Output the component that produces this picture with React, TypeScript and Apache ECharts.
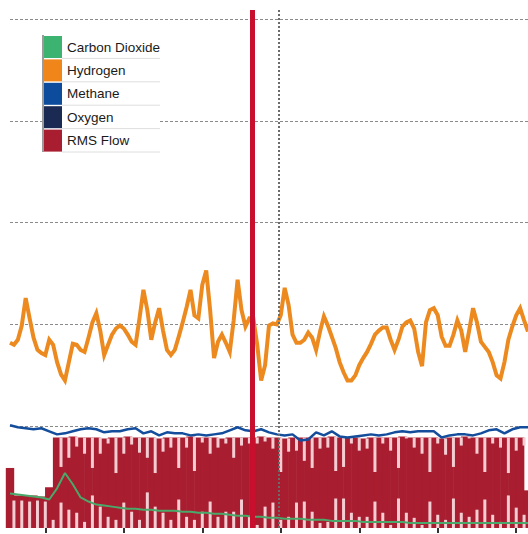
import React, { useEffect, useRef } from "react";
import * as echarts from "echarts";

// Sample index axis (one sample per unit)
const xTicks = [9, 29, 49, 69, 89, 109, 129];
const legendNames = ["Carbon Dioxide", "Hydrogen", "Methane", "Oxygen", "RMS Flow"];

// Hydrogen: one value per sample (0..132)
const hydrogen = [
  1.82, 1.80, 1.85, 1.99, 2.26, 2.06, 1.87, 1.75, 1.72, 1.70,
  1.85, 1.80, 1.63, 1.51, 1.45, 1.63, 1.81, 1.80, 1.75, 1.73,
  1.87, 2.02, 2.11, 1.94, 1.70, 1.80, 1.90, 1.96, 1.99, 1.96,
  1.90, 1.83, 1.80, 2.06, 2.34, 2.14, 1.85, 2.02, 2.16, 1.94,
  1.75, 1.70, 1.75, 1.88, 2.02, 2.17, 2.34, 2.09, 2.06, 2.39,
  2.53, 2.14, 1.67, 1.83, 1.90, 1.82, 1.73, 2.04, 2.44, 2.14,
  1.98, 2.06, 2.06, 1.80, 1.45, 1.60, 1.99, 2.01, 2.00, 2.09,
  2.36, 2.19, 1.90, 1.82, 1.82, 1.85, 1.92, 1.87, 1.75, 1.93,
  2.08, 1.99, 1.88, 1.77, 1.63, 1.53, 1.45, 1.45, 1.50, 1.60,
  1.67, 1.73, 1.81, 1.90, 1.94, 1.97, 1.97, 1.85, 1.75, 1.85,
  1.98, 2.02, 2.04, 1.96, 1.73, 1.59, 2.02, 2.14, 2.16, 2.09,
  1.88, 1.79, 1.79, 1.90, 2.04, 1.94, 1.73, 1.94, 2.16, 2.02,
  1.83, 1.78, 1.73, 1.63, 1.50, 1.47, 1.63, 1.85, 1.98, 2.09,
  2.16, 2.04, 1.93,
];

// Methane: every 2nd sample (0,2,...,132)
const methane = [
  1.01, 0.99, 0.98, 0.97, 0.98, 0.95, 0.92, 0.93, 0.95, 0.97,
  0.98, 0.97, 0.94, 0.95, 0.95, 0.97, 0.98, 0.93, 0.95, 0.91,
  0.94, 0.93, 0.93, 0.91, 0.92, 0.91, 0.92, 0.93, 0.96, 0.99,
  0.96, 0.95, 0.97, 0.94, 0.92, 0.91, 0.92, 0.86, 0.87, 0.94,
  0.91, 0.95, 0.90, 0.89, 0.90, 0.91, 0.92, 0.91, 0.92, 0.94,
  0.95, 0.94, 0.95, 0.95, 0.95, 0.89, 0.91, 0.92, 0.92, 0.91,
  0.93, 0.96, 0.97, 0.93, 0.97, 0.99, 0.99,
];

// Carbon dioxide: every 2nd sample
const carbonDioxide = [
  0.34, 0.33, 0.32, 0.31, 0.30, 0.28, 0.39, 0.54, 0.43, 0.30,
  0.26, 0.23, 0.22, 0.21, 0.20, 0.19, 0.19, 0.18, 0.18, 0.17,
  0.17, 0.17, 0.16, 0.16, 0.15, 0.15, 0.14, 0.14, 0.13, 0.12,
  0.12, 0.11, 0.11, 0.10, 0.10, 0.09, 0.09, 0.09, 0.08, 0.08,
  0.08, 0.07, 0.07, 0.07, 0.07, 0.06, 0.06, 0.06, 0.06, 0.06,
  0.06, 0.05, 0.05, 0.05, 0.05, 0.05, 0.05, 0.05, 0.05, 0.05,
  0.05, 0.05, 0.05, 0.05, 0.05, 0.05, 0.05,
];

const oxygen: number[] = [];

// RMS Flow: every 2nd sample (even samples)
const rmsFlow = [
  0.59, 0.32, 0.32, 0.32, 0.31, 0.40, 0.89, 0.89, 0.90, 0.89,
  0.89, 0.89, 0.88, 0.89, 0.89, 0.90, 0.89, 0.89, 0.89, 0.88,
  0.89, 0.89, 0.89, 0.90, 0.89, 0.89, 0.89, 0.88, 0.89, 0.89,
  0.89, 0.89, 0.90, 0.89, 0.89, 0.88, 0.89, 0.89, 0.89, 0.89,
  0.89, 0.90, 0.89, 0.89, 0.89, 0.88, 0.89, 0.89, 0.89, 0.89,
  0.90, 0.89, 0.89, 0.89, 0.89, 0.88, 0.89, 0.89, 0.90, 0.89,
  0.89, 0.89, 0.89, 0.89, 0.89, 0.89, 0.37,
];

// Light gaps inside the flow bars (odd samples 1..131): depth from the top, height from the bottom
const gapTop = [
  0, 0, 0, 0, 0,
  0, 0.29, 0.20, 0.10, 0.16,
  0.30, 0.16, 0.05, 0.35, 0.16,
  0.08, 0.15, 0.20, 0.35, 0.13,
  0.10, 0.30, 0.10, 0.34, 0.05,
  0.16, 0.10, 0.05, 0.20, 0.08,
  0.06, 0.06, 0.05, 0.11, 0.34,
  0.13, 0.13, 0.23, 0.30, 0.11,
  0.10, 0.34, 0.29, 0.06, 0.13,
  0.10, 0.34, 0.06, 0.13, 0.30,
  0.02, 0.10, 0.16, 0.34, 0.06,
  0.16, 0.29, 0.08, 0.02, 0.16,
  0.34, 0.06, 0.10, 0.35, 0.13,
  0.08,
];
const gapBottom = [
  0.27, 0.27, 0.26, 0.27, 0.26,
  0.08, 0.25, 0.18, 0.15, 0.06,
  0.32, 0.21, 0.11, 0.08, 0.25,
  0.16, 0.08, 0.35, 0.21, 0.15,
  0.08, 0.28, 0.11, 0.08, 0.16,
  0.26, 0.11, 0.16, 0.16, 0.28,
  0.11, 0.03, 0.21, 0.25, 0.08,
  0.11, 0.25, 0.26, 0.16, 0.05,
  0.06, 0.29, 0.29, 0.15, 0.11,
  0.11, 0.26, 0.15, 0.03, 0.29,
  0.15, 0.10, 0.03, 0.26, 0.13,
  0.08, 0.29, 0.15, 0.11, 0.18,
  0.28, 0.13, 0.06, 0.32, 0.20,
  0.13,
];

const cursorAt = 61.7;
const referenceAt = 68.5;

const CRIMSON = "#a81d2f";
const PINK = "#f3cdd2";

export default function App() {
  const ref = useRef<HTMLDivElement>(null);

  useEffect(() => {
    if (!ref.current) return;
    const chart = echarts.init(ref.current, null, { renderer: "svg" });

    const hData = hydrogen.map((v, i) => [i, v]);
    const mData = methane.map((v, i) => [i * 2, v]);
    const cData = carbonDioxide.map((v, i) => [i * 2, v]);
    const rData = rmsFlow.map((v, i) => [i * 2, v]);
    const gapSlots = gapTop.map((_, i) => String(i * 2 + 1));
    const gBottom = gapBottom.slice();
    const gSpacer = gapTop.map((d, i) => Math.max(0, rmsFlow[i] - d - gapBottom[i]));
    const gTop = gapTop.slice();

    const rowH = 23.4;
    const legTop = 35;
    const sepLines = [1, 2, 3, 4, 5].map((k) => ({
      type: "line",
      z: 4,
      shape: { x1: 62, y1: legTop + rowH * k, x2: 160, y2: legTop + rowH * k },
      style: { stroke: "#dedede", lineWidth: 1 },
    }));

    const gapBar = (name: string, data: number[], color: string) => ({
      name,
      type: "bar",
      xAxisIndex: 1,
      stack: "gap",
      data,
      barWidth: 3,
      itemStyle: { color },
      z: 2,
      silent: true,
    });

    chart.setOption({
      animation: false,
      grid: { left: 10, right: 0, top: 10, bottom: 6, containLabel: false },
      xAxis: [
        {
          type: "value",
          min: 0,
          max: 132,
          axisLine: { show: false },
          axisLabel: { show: false },
          splitLine: { show: false },
          axisTick: {
            show: true,
            customValues: xTicks,
            length: 5,
            lineStyle: { color: "#333", width: 2 },
          },
        },
        { type: "category", data: gapSlots, boundaryGap: true, show: false },
      ],
      yAxis: {
        type: "value",
        min: 0,
        max: 5.09,
        interval: 1,
        axisLine: { show: false },
        axisTick: { show: false },
        axisLabel: { show: false },
        splitLine: {
          show: true,
          showMinLine: false,
          showMaxLine: false,
          lineStyle: { color: "#8a8a8a", type: [3, 2], width: 1 },
        },
      },
      legend: {
        data: legendNames,
        orient: "vertical",
        left: 44,
        top: legTop + 1,
        padding: 0,
        itemGap: 1.4,
        itemWidth: 18,
        itemHeight: 22,
        icon: "rect",
        z: 6,
        selectedMode: false,
        textStyle: { fontFamily: "Liberation Sans, Arial, sans-serif", fontSize: 13.5, color: "#1a1a1a" },
      },
      graphic: [
        {
          type: "rect",
          z: 3,
          shape: { x: 42, y: legTop, width: 118, height: rowH * 5 },
          style: { fill: "#ffffff" },
        },
        {
          type: "line",
          z: 4,
          shape: { x1: 43, y1: legTop, x2: 43, y2: legTop + rowH * 5 },
          style: { stroke: "#7a7a7a", lineWidth: 1.5 },
        },
        ...sepLines,
      ],
      series: [
        {
          name: "ref",
          type: "line",
          data: [],
          z: 1,
          silent: true,
          markLine: {
            silent: true,
            symbol: ["none", "none"],
            label: { show: false },
            lineStyle: { color: "#6b6b6b", type: "dotted", width: 2 },
            data: [{ xAxis: referenceAt }],
          },
        },
        {
          name: "RMS Flow",
          type: "bar",
          xAxisIndex: 0,
          data: rData,
          barWidth: 8.4,
          itemStyle: { color: CRIMSON },
          z: 2,
        },
        gapBar("gapBottom", gBottom, PINK),
        gapBar("gapSpacer", gSpacer, "rgba(0,0,0,0)"),
        gapBar("gapTop", gTop, PINK),
        {
          name: "Carbon Dioxide",
          type: "line",
          data: cData,
          showSymbol: false,
          lineStyle: { color: "#4aa96a", width: 2 },
          itemStyle: { color: "#3cb371" },
          z: 3,
        },
        {
          name: "Hydrogen",
          type: "line",
          data: hData,
          showSymbol: false,
          lineStyle: { color: "#ec8a1f", width: 4, join: "miter" },
          itemStyle: { color: "#f0861a" },
          z: 3,
        },
        {
          name: "Methane",
          type: "line",
          data: mData,
          showSymbol: false,
          lineStyle: { color: "#134d9c", width: 2.5 },
          itemStyle: { color: "#0d4c9c" },
          z: 3,
        },
        {
          name: "Oxygen",
          type: "line",
          data: oxygen,
          showSymbol: false,
          lineStyle: { color: "#1a2a52", width: 2 },
          itemStyle: { color: "#1a2a52" },
          z: 3,
        },
        {
          name: "cursor",
          type: "line",
          data: [],
          z: 10,
          silent: true,
          markLine: {
            silent: true,
            symbol: ["none", "none"],
            label: { show: false },
            lineStyle: { color: "#c8102e", type: "solid", width: 5 },
            data: [{ xAxis: cursorAt }],
          },
        },
      ],
    });

    return () => chart.dispose();
  }, []);

  return (
    <div
      ref={ref}
      style={{ position: "fixed", left: 0, top: 0, width: 528, height: 534, background: "#fff" }}
    />
  );
}
